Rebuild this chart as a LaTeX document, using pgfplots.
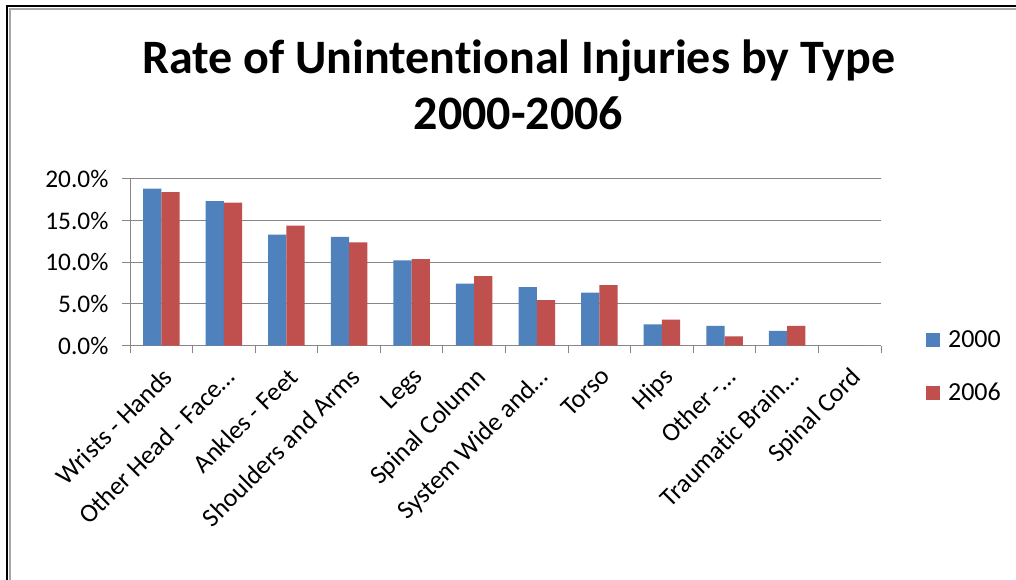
\documentclass[border=0pt]{standalone}
\usepackage{pgfplots}
\pgfplotsset{compat=1.18}
\usepackage{fontspec}
\setmainfont[Ligatures={NoCommon}]{Carlito}
\definecolor{xlblue}{HTML}{4F81BD}
\definecolor{xlred}{HTML}{C0504D}
\definecolor{gridgrey}{HTML}{868686}
\definecolor{framegrey}{HTML}{A6A6A6}
\begin{document}
\begin{tikzpicture}
\path[use as bounding box] (0,0) rectangle (762pt,435pt);
\fill[white] (0,0) rectangle (762pt,435pt);
\draw[black, line width=1.5pt] (5.25pt,0) -- (5.25pt,430.5pt) -- (762pt,430.5pt);
\draw[framegrey, line width=1.5pt] (7.5pt,0) -- (7.5pt,428.25pt) -- (762pt,428.25pt);
\node[anchor=base, inner sep=0pt, font=\bfseries\fontsize{36}{43}\selectfont] at (388.9pt,380pt) {Rate of Unintentional Injuries by Type};
\node[anchor=base, inner sep=0pt, font=\bfseries\fontsize{36}{43}\selectfont] at (388.9pt,337.5pt) {2000-2006};
\begin{axis}[
  at={(97.5pt,175.7pt)}, anchor=south west,
  scale only axis, width=563.25pt, height=125.2pt,
  ybar=0pt, bar width=13.7pt,
  xmin=-0.5, xmax=11.5, ymin=0, ymax=20,
  axis x line=bottom, axis y line=left,
  axis line style={-, draw=gridgrey, line width=0.75pt},
  tick align=outside,
  major tick length=6pt, minor tick length=5.25pt,
  tick style={draw=gridgrey, line width=0.75pt},
  xtick={0,1,2,3,4,5,6,7,8,9,10,11},
  major x tick style={draw=none},
  minor xtick={-0.5,0.5,1.5,2.5,3.5,4.5,5.5,6.5,7.5,8.5,9.5,10.5,11.5},
  xticklabels={Wrists - Hands, Other Head - Face…, Ankles - Feet, Shoulders and Arms, Legs, Spinal Column, System Wide and…, Torso, Hips, Other -…, Traumatic Brain…, Spinal Cord},
  xticklabel style={yshift=-9pt, rotate=45, anchor=north east, inner sep=0pt, font=\fontsize{19.5}{23}\selectfont},
  ytick={0,5,10,15,20},
  yticklabels={0.0\%,5.0\%,10.0\%,15.0\%,20.0\%},
  yticklabel style={inner sep=0pt, xshift=-10pt, anchor=east, font=\fontsize{19}{23}\selectfont},
  ymajorgrids, major grid style={draw=gridgrey, line width=0.75pt},
  legend style={draw=none, fill=none, at={(axis description cs:1.06,-0.126)}, anchor=west,
    font=\fontsize{19.5}{23}\selectfont, row sep=25pt, column sep=5.8pt, inner sep=0pt,
    nodes={inner sep=0pt}},
  legend cell align=left,
  legend image code/.code={\draw[#1,draw=none] (0pt,-5.25pt) rectangle (10.5pt,5.25pt);},
]
\addplot[fill=xlblue, draw=none] coordinates {(0,18.83)(1,17.31)(2,13.30)(3,13.03)(4,10.22)(5,7.45)(6,7.02)(7,6.37)(8,2.57)(9,2.37)(10,1.77)(11,0)};
\addplot[fill=xlred, draw=none] coordinates {(0,18.39)(1,17.15)(2,14.39)(3,12.38)(4,10.38)(5,8.34)(6,5.46)(7,7.26)(8,3.13)(9,1.13)(10,2.37)(11,0)};
\legend{2000,2006}
\end{axis}
\end{tikzpicture}
\end{document}
